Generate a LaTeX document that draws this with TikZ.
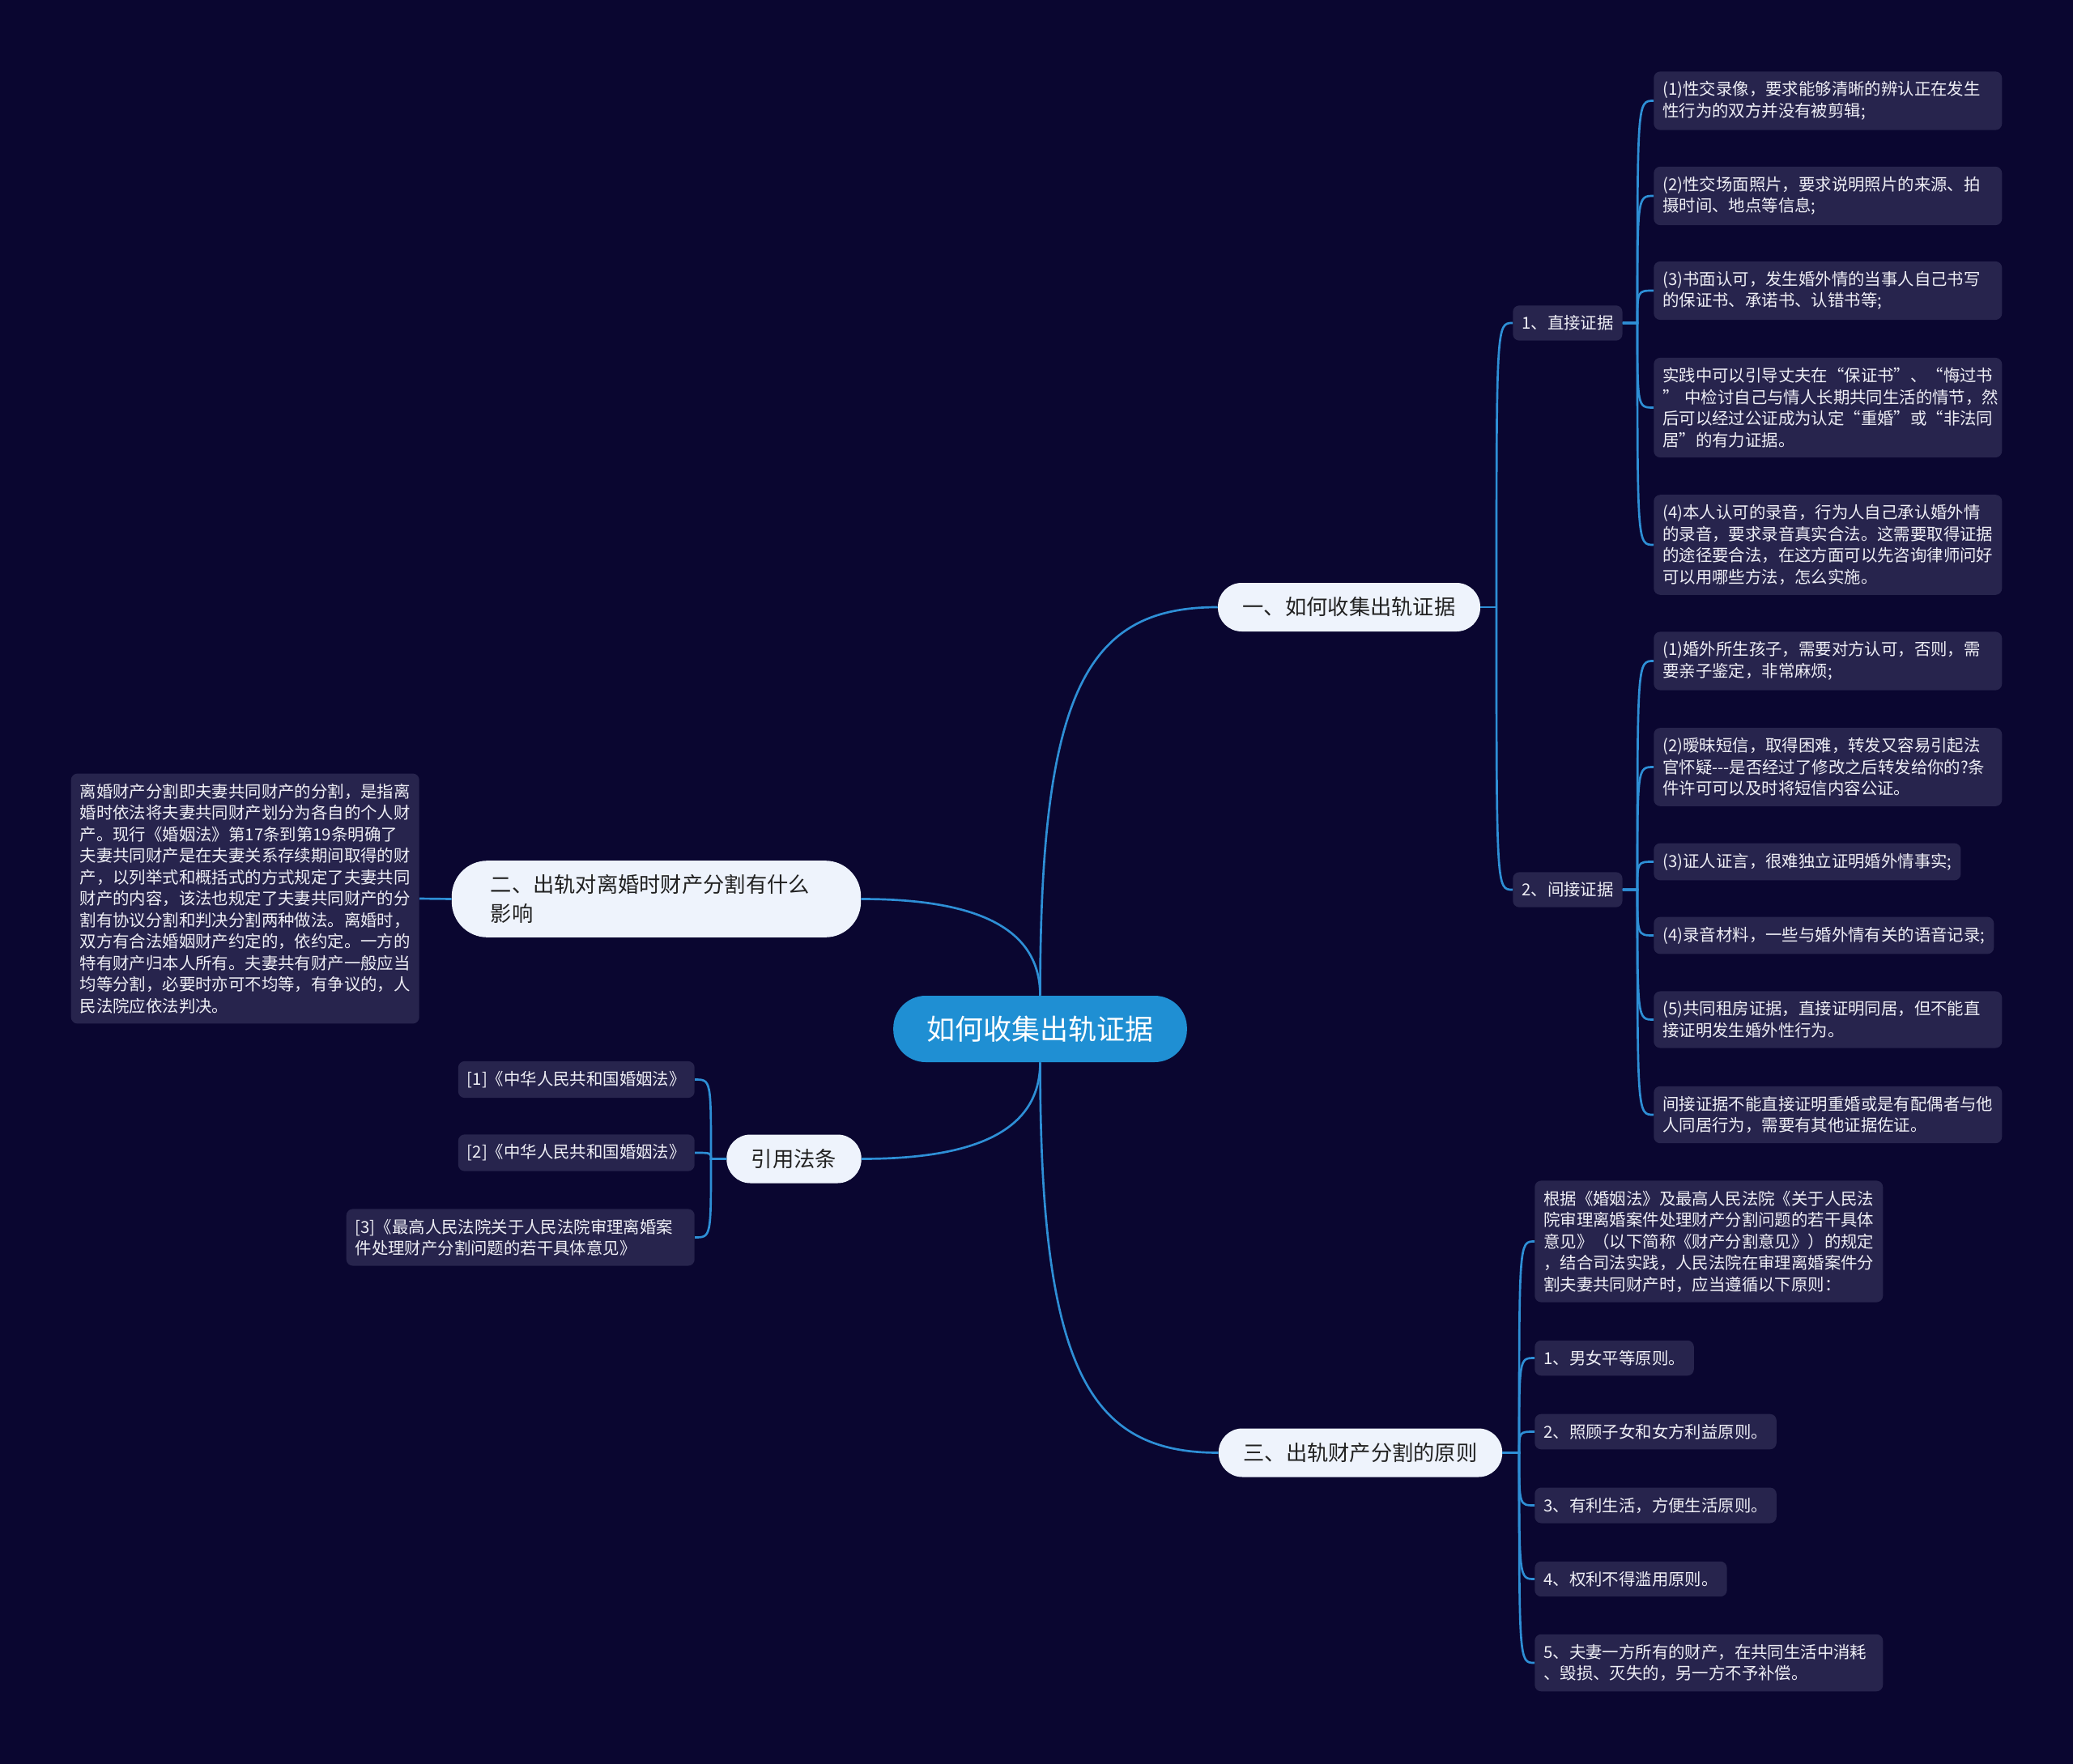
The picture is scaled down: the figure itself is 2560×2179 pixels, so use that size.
\documentclass[tikz,border=0pt]{standalone}
\usepackage{fontspec}
\setmainfont{Noto Sans CJK SC}
\usepackage{tikz}

\definecolor{bgnavy}{HTML}{0A0630}
\definecolor{linkblue}{HTML}{2E8FD6}
\definecolor{rootfill}{HTML}{1F8FD3}
\definecolor{mainfill}{HTML}{EEF3FC}
\definecolor{maintext}{HTML}{222222}
\definecolor{leaffill}{HTML}{27244D}
\definecolor{leaftext}{HTML}{EEEEF5}

\tikzset{
  link/.style={draw=linkblue, line width=2pt},
  rootbox/.style={fill=rootfill, text=white, rounded corners=30pt, minimum height=61.5pt, inner xsep=31pt, font=\fontsize{26.25pt}{31pt}\selectfont},
  mainbox/.style={fill=mainfill, text=maintext, rounded corners=22pt, minimum height=45pt, inner xsep=23pt, font=\fontsize{19.7pt}{27pt}\selectfont},
  leaf/.style={fill=leaffill, text=leaftext, rounded corners=6pt, align=left, inner xsep=8.25pt, inner ysep=9.2pt, font=\fontsize{15.3pt}{19.9pt}\selectfont},
  wide/.style={text width=306pt}
}

\begin{document}
\begin{tikzpicture}[x=0.75pt,y=0.75pt,yscale=-1,xscale=1]
\useasboundingbox (0,0) rectangle (2560,2179);
\fill [bgnavy] (0,0) rectangle (2560,2179);

% centre and first level
\node [rootbox] (root) at (1284.5,1271) {如何收集出轨证据};
\node [mainbox] (m1) at (1666,750) {一、如何收集出轨证据};
\node [mainbox, align=left, text width=307pt, inner xsep=36pt, minimum height=71pt, rounded corners=33pt] (m2) at (810.5,1110.5) {二、出轨对离婚时财产分割有什么\\影响};
\node [mainbox] (m3) at (1680,1794.5) {三、出轨财产分割的原则};
\node [mainbox] (m4) at (980.5,1431.5) {引用法条};

\draw [link] (root.north) .. controls +(0,-380) and +(-160,0) .. (m1.west);
\draw [link] (root.north) .. controls +(0,-90) and +(130,0) .. (m2.east);
\draw [link] (root.south) .. controls +(0,380) and +(-160,0) .. (m3.west);
\draw [link] (root.south) .. controls +(0,90) and +(130,0) .. (m4.east);

% branch one
\node [leaf, anchor=west] (d1) at (1868,399) {1、直接证据};
\node [leaf, anchor=west] (d2) at (1868,1099) {2、间接证据};
\coordinate (j1) at (1848,750);
\coordinate (k1) at (2022,399);
\coordinate (k2) at (2022,1099);

\node [leaf, wide, anchor=west] (a1) at (2042,124.5) {(1)性交录像，要求能够清晰的辨认正在发生\\性行为的双方并没有被剪辑;};
\node [leaf, wide, anchor=west] (a2) at (2042,242) {(2)性交场面照片，要求说明照片的来源、拍\\摄时间、地点等信息;};
\node [leaf, wide, anchor=west] (a3) at (2042,359) {(3)书面认可，发生婚外情的当事人自己书写\\的保证书、承诺书、认错书等;};
\node [leaf, wide, anchor=west] (a4) at (2042,503.5) {实践中可以引导丈夫在“保证书”、“悔过书\\” 中检讨自己与情人长期共同生活的情节，然\\后可以经过公证成为认定“重婚”或“非法同\\居”的有力证据。};
\node [leaf, wide, anchor=west] (a5) at (2042,673) {(4)本人认可的录音，行为人自己承认婚外情\\的录音，要求录音真实合法。这需要取得证据\\的途径要合法，在这方面可以先咨询律师问好\\可以用哪些方法，怎么实施。};

\node [leaf, wide, anchor=west] (b1) at (2042,816.5) {(1)婚外所生孩子，需要对方认可，否则，需\\要亲子鉴定，非常麻烦;};
\node [leaf, wide, anchor=west] (b2) at (2042,947.5) {(2)暧昧短信，取得困难，转发又容易引起法\\官怀疑{-}{-}{-}是否经过了修改之后转发给你的?条\\件许可可以及时将短信内容公证。};
\node [leaf, anchor=west] (b3) at (2042,1064.5) {(3)证人证言，很难独立证明婚外情事实;};
\node [leaf, anchor=west] (b4) at (2042,1155.5) {(4)录音材料，一些与婚外情有关的语音记录;};
\node [leaf, wide, anchor=west] (b5) at (2042,1259.5) {(5)共同租房证据，直接证明同居，但不能直\\接证明发生婚外性行为。};
\node [leaf, wide, anchor=west] (b6) at (2042,1377) {间接证据不能直接证明重婚或是有配偶者与他\\人同居行为，需要有其他证据佐证。};

\draw [link] (m1.east) -- (j1);
\draw [link] (j1) .. controls (j1 |- d1.west) .. (d1.west);
\draw [link] (j1) .. controls (j1 |- d2.west) .. (d2.west);
\foreach \n in {a1,a2,a3,a4,a5}
  \draw [link] (d1.east) -- (k1) .. controls (k1 |- \n.west) .. (\n.west);
\foreach \n in {b1,b2,b3,b4,b5,b6}
  \draw [link] (d2.east) -- (k2) .. controls (k2 |- \n.west) .. (\n.west);

% branch two
\node [leaf, wide, anchor=east] (t1) at (518,1110) {离婚财产分割即夫妻共同财产的分割，是指离\\婚时依法将夫妻共同财产划分为各自的个人财\\产。现行《婚姻法》第17条到第19条明确了\\夫妻共同财产是在夫妻关系存续期间取得的财\\产，以列举式和概括式的方式规定了夫妻共同\\财产的内容，该法也规定了夫妻共同财产的分\\割有协议分割和判决分割两种做法。离婚时，\\双方有合法婚姻财产约定的，依约定。一方的\\特有财产归本人所有。夫妻共有财产一般应当\\均等分割，必要时亦可不均等，有争议的，人\\民法院应依法判决。};
\draw [link] (m2.west) -- (t1.east);

% branch three
\coordinate (j3) at (1876,1794.5);
\node [leaf, wide, anchor=west] (c0) at (1895,1533.5) {根据《婚姻法》及最高人民法院《关于人民法\\院审理离婚案件处理财产分割问题的若干具体\\意见》（以下简称《财产分割意见》）的规定\\，结合司法实践，人民法院在审理离婚案件分\\割夫妻共同财产时，应当遵循以下原则：};
\node [leaf, anchor=west] (c1) at (1895,1677.5) {1、男女平等原则。};
\node [leaf, anchor=west] (c2) at (1895,1768.5) {2、照顾子女和女方利益原则。};
\node [leaf, anchor=west] (c3) at (1895,1859.5) {3、有利生活，方便生活原则。};
\node [leaf, anchor=west] (c4) at (1895,1950.5) {4、权利不得滥用原则。};
\node [leaf, wide, anchor=west] (c5) at (1895,2054) {5、夫妻一方所有的财产，在共同生活中消耗\\、毁损、灭失的，另一方不予补偿。};
\foreach \n in {c0,c1,c2,c3,c4,c5}
  \draw [link] (m3.east) -- (j3) .. controls (j3 |- \n.west) .. (\n.west);

% references
\coordinate (j4) at (878,1431.5);
\node [leaf, anchor=east] (r1) at (858,1333.5) {[1]《中华人民共和国婚姻法》};
\node [leaf, anchor=east] (r2) at (858,1424) {[2]《中华人民共和国婚姻法》};
\node [leaf, wide, anchor=east] (r3) at (858,1528.5) {[3]《最高人民法院关于人民法院审理离婚案\\件处理财产分割问题的若干具体意见》};
\foreach \n in {r1,r2,r3}
  \draw [link] (m4.west) -- (j4) .. controls (j4 |- \n.east) .. (\n.east);
\end{tikzpicture}
\end{document}
